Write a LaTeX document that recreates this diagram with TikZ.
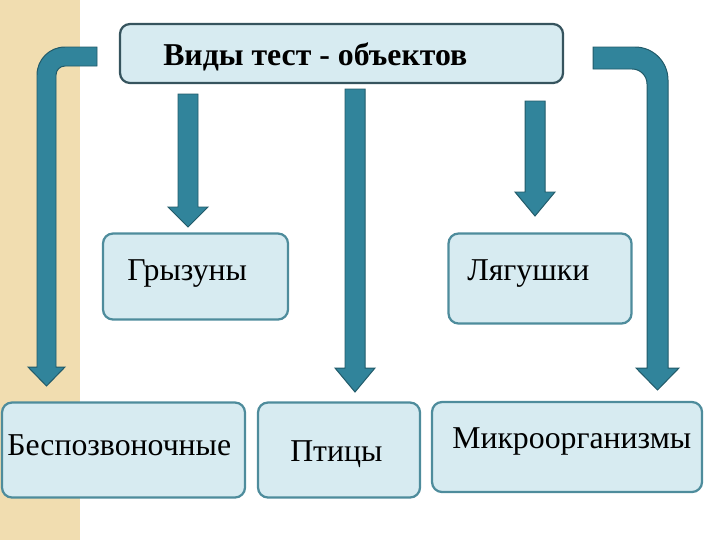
\documentclass[tikz,border=0pt]{standalone}
\usepackage{fontspec}
\setmainfont{Liberation Serif}
\usepackage{tikz}
\definecolor{BoxFill}{HTML}{D7EBF1}
\definecolor{BoxLine}{HTML}{4E8C9C}
\definecolor{TopLine}{HTML}{36545E}
\definecolor{ArrowFill}{HTML}{31849B}
\definecolor{ArrowLine}{HTML}{215A69}
\definecolor{SideBand}{HTML}{F1DDB0}
\newcommand{\pxu}{0.025cm}
% straight block arrow: centre x, top, head top, tip
\newcommand{\blockarrow}[4]{%
  \draw[arrowshape] (#1-10,#2) -- (#1+10,#2) -- (#1+10,#3) -- (#1+20,#3)
    -- (#1,#4) -- (#1-20,#3) -- (#1-10,#3) -- cycle;}

\begin{document}
\begin{tikzpicture}[x=\pxu, y=-\pxu,
    box/.style={draw=BoxLine, line width=1.6pt, fill=BoxFill, rounded corners=10*\pxu},
    lbl/.style={anchor=base west, inner sep=0pt, font=\fontsize{22.6}{26}\selectfont},
    arrowshape/.style={draw=ArrowLine, line width=0.7pt, fill=ArrowFill}]
    \useasboundingbox (0,0) rectangle (720,540);
    \fill[SideBand] (0,0) rectangle (80,540);

    % boxes
    \node[box, draw=TopLine, minimum width=443*\pxu, minimum height=59*\pxu] (types) at (341.5,53.5) {};
    \node[box, minimum width=185*\pxu, minimum height=86*\pxu] (rodents) at (195.5,276.5) {};
    \node[box, minimum width=183*\pxu, minimum height=90*\pxu] (frogs) at (540,278.5) {};
    \node[box, minimum width=243*\pxu, minimum height=95*\pxu] (inverts) at (123.5,450) {};
    \node[box, minimum width=162*\pxu, minimum height=95*\pxu] (birds) at (339,450) {};
    \node[box, minimum width=270*\pxu, minimum height=90*\pxu] (microbes) at (567,447) {};

    % texts
    \node[lbl, font=\fontsize{22.6}{26}\selectfont\bfseries] (types-t) at (163,65) {Виды тест - объектов};
    \node[lbl] (rodents-t) at (127,280) {Грызуны};
    \node[lbl] (frogs-t) at (467,280) {Лягушки};
    \node[lbl] (inverts-t) at (7,455) {Беспозвоночные};
    \node[lbl] (birds-t) at (290,461) {Птицы};
    \node[lbl] (microbes-t) at (452,448) {Микроорганизмы};

    % arrows
    \blockarrow{188}{94}{207}{227}
    \blockarrow{355}{89}{368}{392}
    \blockarrow{535}{101}{192}{216}
    \draw[arrowshape] (97,47) -- (65,47) .. controls (49.5,47) and (37,59.5) .. (37,75)
        -- (37,367) -- (28,367) -- (46.5,386) -- (65,367) -- (56,367) -- (56,75)
        .. controls (56,70) and (60,66) .. (65,66) -- (97,66) -- cycle;
    \draw[arrowshape] (593,47) -- (635,47) .. controls (653.2,47) and (668,61.8) .. (668,80)
        -- (668,368) -- (679,368) -- (657.5,390) -- (636,368) -- (647,368) -- (647,84)
        .. controls (647,75.7) and (640.3,69) .. (632,69) -- (593,69) -- cycle;
\end{tikzpicture}
\end{document}
